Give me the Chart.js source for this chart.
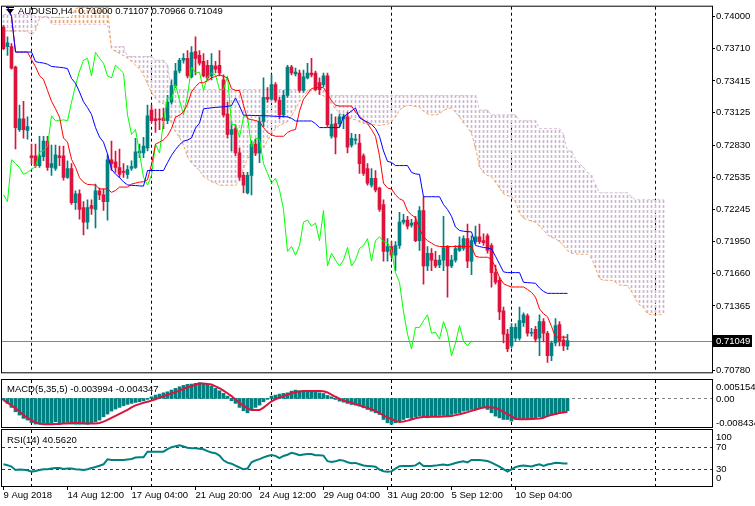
<!DOCTYPE html>
<html>
<head>
<meta charset="utf-8">
<script src="https://cdn.jsdelivr.net/npm/chart.js@4.4.1/dist/chart.umd.min.js"></script>
<style>
  body { margin: 0; background: #fff; width: 755px; height: 506px; overflow: hidden; position: relative; }
  canvas { position: absolute; left: 0; }
</style>
</head>
<body>
<canvas id="main" width="755" height="379" style="top:0"></canvas>
<canvas id="macd" width="755" height="49" style="top:379px"></canvas>
<canvas id="rsi" width="755" height="77" style="top:429px"></canvas>
<script>
// AUDUSD H4, 9 Aug - 11 Sep 2018, one entry per 4h bar
const opens = [
  0.73905, 0.73727, 0.73727, 0.73541, 0.72972, 0.73070, 0.72964, 0.72733, 0.72733, 0.72644,
  0.72724, 0.72866, 0.72626, 0.72617, 0.72733, 0.72733, 0.72537, 0.72617, 0.72306, 0.72386,
  0.72262, 0.72129, 0.72280, 0.72244, 0.72413, 0.72377, 0.72315, 0.72697, 0.72679, 0.72626,
  0.72591, 0.72564, 0.72617, 0.72626, 0.72759, 0.72759, 0.72804, 0.73150, 0.73070, 0.73070,
  0.73079, 0.73052, 0.73221, 0.73372, 0.73505, 0.73603, 0.73621, 0.73452, 0.73683, 0.73647,
  0.73594, 0.73558, 0.73461, 0.73550, 0.73558, 0.73425, 0.73114, 0.72928, 0.72981, 0.72759,
  0.72555, 0.72395, 0.72555, 0.72839, 0.72759, 0.73043, 0.73265, 0.73248, 0.73381, 0.73239,
  0.73106, 0.73283, 0.73541, 0.73478, 0.73487, 0.73328, 0.73443, 0.73487, 0.73487, 0.73399,
  0.73381, 0.73461, 0.72911, 0.73026, 0.73026, 0.73070, 0.73088, 0.72830, 0.72875, 0.72848,
  0.72733, 0.72617, 0.72466, 0.72528, 0.72440, 0.72289, 0.71862, 0.71907, 0.71827, 0.71916,
  0.72129, 0.72147, 0.72102, 0.72129, 0.71960, 0.72235, 0.71729, 0.71845, 0.71783, 0.71738,
  0.71783, 0.71907, 0.71729, 0.71783, 0.71871, 0.71889, 0.71978, 0.71774, 0.71951, 0.71995,
  0.71960, 0.72004, 0.71916, 0.71669, 0.71598, 0.71321, 0.71108, 0.71001, 0.71072, 0.71072,
  0.71214, 0.71276, 0.71117, 0.71152, 0.71072, 0.71223, 0.71117, 0.70912, 0.71028, 0.71196,
  0.71054, 0.71000
];
const highs = [
  0.73922, 0.73816, 0.73754, 0.73550, 0.73194, 0.73230, 0.73088, 0.72839, 0.72839, 0.72911,
  0.72911, 0.72911, 0.72830, 0.72830, 0.72821, 0.72821, 0.72688, 0.72662, 0.72413, 0.72422,
  0.72315, 0.72333, 0.72333, 0.72475, 0.72440, 0.72431, 0.72741, 0.72866, 0.72777, 0.72795,
  0.72662, 0.72644, 0.72688, 0.72893, 0.72839, 0.72902, 0.73194, 0.73194, 0.73159, 0.73159,
  0.73168, 0.73283, 0.73425, 0.73576, 0.73621, 0.73665, 0.73692, 0.73727, 0.73816, 0.73692,
  0.73665, 0.73603, 0.73665, 0.73594, 0.73692, 0.73470, 0.73221, 0.73043, 0.73017, 0.72804,
  0.72582, 0.72582, 0.72866, 0.72884, 0.73088, 0.73443, 0.73354, 0.73470, 0.73399, 0.73265,
  0.73328, 0.73558, 0.73558, 0.73532, 0.73514, 0.73514, 0.73576, 0.73621, 0.73505, 0.73443,
  0.73487, 0.73487, 0.73114, 0.73088, 0.73114, 0.73114, 0.73132, 0.72937, 0.72928, 0.72928,
  0.72750, 0.72662, 0.72617, 0.72599, 0.72448, 0.72333, 0.71978, 0.71951, 0.71951, 0.72218,
  0.72200, 0.72182, 0.72155, 0.72182, 0.72271, 0.72360, 0.71907, 0.71889, 0.71862, 0.71827,
  0.72182, 0.71916, 0.71827, 0.71916, 0.71995, 0.72004, 0.72111, 0.72004, 0.72093, 0.72111,
  0.72022, 0.72022, 0.71933, 0.71738, 0.71625, 0.71356, 0.71152, 0.71205, 0.71205, 0.71356,
  0.71303, 0.71294, 0.71161, 0.71179, 0.71285, 0.71250, 0.71134, 0.71045, 0.71250, 0.71223,
  0.71090, 0.71107
];
const lows = [
  0.73700, 0.73647, 0.73523, 0.72795, 0.72955, 0.72893, 0.72884, 0.72662, 0.72626, 0.72626,
  0.72688, 0.72599, 0.72555, 0.72599, 0.72644, 0.72511, 0.72528, 0.72289, 0.72244, 0.72155,
  0.72013, 0.72067, 0.72200, 0.72075, 0.72333, 0.72235, 0.72147, 0.72599, 0.72582, 0.72537,
  0.72537, 0.72528, 0.72599, 0.72617, 0.72715, 0.72715, 0.72777, 0.73034, 0.72946, 0.72972,
  0.72981, 0.73026, 0.73203, 0.73354, 0.73487, 0.73576, 0.73443, 0.73443, 0.73470, 0.73558,
  0.73452, 0.73425, 0.73425, 0.73487, 0.73461, 0.73088, 0.72893, 0.72777, 0.72733, 0.72511,
  0.72395, 0.72386, 0.72377, 0.72733, 0.72670, 0.72999, 0.73221, 0.73239, 0.73221, 0.73070,
  0.73088, 0.73265, 0.73470, 0.73461, 0.73310, 0.73310, 0.73434, 0.73452, 0.73328, 0.73292,
  0.73363, 0.72999, 0.72893, 0.72750, 0.72999, 0.72981, 0.72759, 0.72812, 0.72839, 0.72573,
  0.72555, 0.72466, 0.72448, 0.72404, 0.72226, 0.71774, 0.71774, 0.71800, 0.71687, 0.71889,
  0.72111, 0.72067, 0.72084, 0.71951, 0.71871, 0.71563, 0.71687, 0.71687, 0.71713, 0.71713,
  0.71687, 0.71445, 0.71713, 0.71765, 0.71862, 0.71871, 0.71713, 0.71651, 0.71933, 0.71933,
  0.71916, 0.71845, 0.71537, 0.71563, 0.71241, 0.71028, 0.70948, 0.70983, 0.71045, 0.71054,
  0.71179, 0.71090, 0.71090, 0.71037, 0.70912, 0.71037, 0.70850, 0.70868, 0.71001, 0.71001,
  0.70957, 0.70966
];
const closes = [
  0.73709, 0.73763, 0.73532, 0.72990, 0.73070, 0.72972, 0.72999, 0.72715, 0.72644, 0.72733,
  0.72866, 0.72626, 0.72662, 0.72741, 0.72715, 0.72537, 0.72617, 0.72306, 0.72386, 0.72244,
  0.72129, 0.72262, 0.72253, 0.72413, 0.72377, 0.72315, 0.72697, 0.72662, 0.72626, 0.72564,
  0.72582, 0.72608, 0.72635, 0.72768, 0.72777, 0.72821, 0.73097, 0.73052, 0.73052, 0.73061,
  0.73052, 0.73221, 0.73372, 0.73505, 0.73603, 0.73621, 0.73461, 0.73674, 0.73621, 0.73576,
  0.73461, 0.73443, 0.73558, 0.73523, 0.73487, 0.73106, 0.72928, 0.72972, 0.72759, 0.72537,
  0.72466, 0.72555, 0.72839, 0.72759, 0.73043, 0.73265, 0.73248, 0.73381, 0.73239, 0.73106,
  0.73283, 0.73541, 0.73487, 0.73496, 0.73328, 0.73452, 0.73487, 0.73470, 0.73336, 0.73336,
  0.73461, 0.73017, 0.73017, 0.72902, 0.73088, 0.73088, 0.72812, 0.72893, 0.72884, 0.72662,
  0.72573, 0.72484, 0.72528, 0.72422, 0.72244, 0.71862, 0.71907, 0.71827, 0.71916, 0.72129,
  0.72147, 0.72093, 0.72120, 0.71960, 0.72235, 0.71729, 0.71845, 0.71783, 0.71729, 0.71783,
  0.71898, 0.71729, 0.71783, 0.71889, 0.71916, 0.71978, 0.71774, 0.71960, 0.71995, 0.71951,
  0.71942, 0.71871, 0.71669, 0.71581, 0.71312, 0.71108, 0.70974, 0.71170, 0.71170, 0.71232,
  0.71285, 0.71117, 0.71125, 0.71063, 0.71223, 0.71117, 0.70912, 0.71028, 0.71187, 0.71045,
  0.71001, 0.71049
];

// Ichimoku lines
const tenkan = [
  0.74180, 0.74091, 0.74002, 0.73678, 0.73678, 0.73678, 0.73678, 0.73607, 0.73545, 0.73462,
  0.73428, 0.73329, 0.73230, 0.73161, 0.73085, 0.72895, 0.72857, 0.72701, 0.72629, 0.72533,
  0.72493, 0.72472, 0.72470, 0.72466, 0.72431, 0.72431, 0.72431, 0.72400, 0.72417, 0.72448,
  0.72448, 0.72448, 0.72475, 0.72484, 0.72493, 0.72497, 0.72515, 0.72653, 0.72839, 0.72857,
  0.72879, 0.72915, 0.72981, 0.73085, 0.73104, 0.73132, 0.73203, 0.73315, 0.73363, 0.73399,
  0.73399, 0.73416, 0.73443, 0.73456, 0.73471, 0.73456, 0.73443, 0.73345, 0.73328, 0.73328,
  0.73194, 0.73070, 0.73063, 0.73054, 0.73043, 0.72990, 0.72946, 0.72924, 0.72911, 0.72911,
  0.72911, 0.72946, 0.72964, 0.72972, 0.73141, 0.73248, 0.73296, 0.73345, 0.73354, 0.73354,
  0.73354, 0.73296, 0.73234, 0.73194, 0.73186, 0.73186, 0.73186, 0.73186, 0.73132, 0.73092,
  0.73061, 0.73026, 0.72972, 0.72910, 0.72733, 0.72484, 0.72440, 0.72431, 0.72377, 0.72342,
  0.72324, 0.72231, 0.72195, 0.72169, 0.72071, 0.71995, 0.71960, 0.71938, 0.71916, 0.71907,
  0.71907, 0.71907, 0.71907, 0.71907, 0.71907, 0.71907, 0.71907, 0.71907, 0.71818, 0.71809,
  0.71809, 0.71809, 0.71791, 0.71713, 0.71625, 0.71569, 0.71551, 0.71538, 0.71538, 0.71538,
  0.71538, 0.71516, 0.71489, 0.71445, 0.71338, 0.71294, 0.71267, 0.71179, 0.71081, 0.71081,
  0.71081, 0.71081
];
const kijun = [
  0.74180, 0.74091, 0.74002, 0.73678, 0.73678, 0.73678, 0.73678, 0.73678, 0.73590, 0.73583,
  0.73578, 0.73567, 0.73547, 0.73543, 0.73539, 0.73535, 0.73527, 0.73437, 0.73394, 0.73314,
  0.73225, 0.73172, 0.73110, 0.72990, 0.72904, 0.72857, 0.72750, 0.72610, 0.72566, 0.72535,
  0.72496, 0.72468, 0.72464, 0.72462, 0.72459, 0.72457, 0.72599, 0.72599, 0.72599, 0.72599,
  0.72599, 0.72670, 0.72737, 0.72790, 0.72834, 0.72866, 0.72877, 0.72895, 0.72986, 0.73030,
  0.73161, 0.73165, 0.73170, 0.73174, 0.73177, 0.73179, 0.73183, 0.73190, 0.73260, 0.73186,
  0.73103, 0.73102, 0.73101, 0.73100, 0.73099, 0.73098, 0.73097, 0.73095, 0.73093, 0.73091,
  0.73089, 0.73088, 0.73074, 0.73050, 0.73050, 0.73050, 0.73050, 0.73050, 0.73026, 0.72990,
  0.72990, 0.72990, 0.72990, 0.72990, 0.72990, 0.73088, 0.73114, 0.73141, 0.73168, 0.73079,
  0.73057, 0.73039, 0.73019, 0.72981, 0.72910, 0.72777, 0.72682, 0.72673, 0.72644, 0.72644,
  0.72644, 0.72644, 0.72582, 0.72568, 0.72564, 0.72360, 0.72360, 0.72360, 0.72360, 0.72360,
  0.72289, 0.72244, 0.72182, 0.72084, 0.72053, 0.72046, 0.72042, 0.72040, 0.71916, 0.71907,
  0.71898, 0.71893, 0.71885, 0.71818, 0.71747, 0.71676, 0.71669, 0.71669, 0.71669, 0.71669,
  0.71581, 0.71578, 0.71575, 0.71572, 0.71529, 0.71498, 0.71480, 0.71480, 0.71480, 0.71480,
  0.71480, 0.71480
];
// lagging span, starts at the first bar of the chart
const chikou = [
  0.72377, 0.72315, 0.72697, 0.72662, 0.72626, 0.72564, 0.72582, 0.72608, 0.72635, 0.72768,
  0.72777, 0.72821, 0.73097, 0.73052, 0.73052, 0.73061, 0.73052, 0.73221, 0.73372, 0.73505,
  0.73603, 0.73621, 0.73461, 0.73674, 0.73621, 0.73576, 0.73461, 0.73443, 0.73558, 0.73523,
  0.73487, 0.73106, 0.72928, 0.72972, 0.72759, 0.72537, 0.72466, 0.72555, 0.72839, 0.72759,
  0.73043, 0.73265, 0.73248, 0.73381, 0.73239, 0.73106, 0.73283, 0.73541, 0.73487, 0.73496,
  0.73328, 0.73452, 0.73487, 0.73470, 0.73336, 0.73336, 0.73461, 0.73017, 0.73017, 0.72902,
  0.73088, 0.73088, 0.72812, 0.72893, 0.72884, 0.72662, 0.72573, 0.72484, 0.72528, 0.72422,
  0.72244, 0.71862, 0.71907, 0.71827, 0.71916, 0.72129, 0.72147, 0.72093, 0.72120, 0.71960,
  0.72235, 0.71729, 0.71845, 0.71783, 0.71729, 0.71783, 0.71898, 0.71729, 0.71783, 0.71889,
  0.71916, 0.71978, 0.71774, 0.71960, 0.71995, 0.71951, 0.71942, 0.71871, 0.71669, 0.71581,
  0.71312, 0.71108, 0.70974, 0.71170, 0.71170, 0.71232, 0.71285, 0.71117, 0.71125, 0.71063,
  0.71223, 0.71117, 0.70912, 0.71028, 0.71187, 0.71045, 0.71001, 0.71049
];
// leading spans, run 24 bars past the last candle
const senkouA = [
  0.73869, 0.73869, 0.73869, 0.73869, 0.73869, 0.73869, 0.73869, 0.73834, 0.73878, 0.73985,
  0.73994, 0.73994, 0.73994, 0.73994, 0.73994, 0.73994, 0.73994, 0.73994, 0.74073, 0.74082,
  0.74082, 0.74082, 0.74082, 0.74082, 0.74082, 0.74082, 0.74082, 0.73709, 0.73683, 0.73665,
  0.73647, 0.73621, 0.73594, 0.73558, 0.73523, 0.73470, 0.73390, 0.73310, 0.73257, 0.73217,
  0.73208, 0.73168, 0.73026, 0.72955, 0.72901, 0.72830, 0.72724, 0.72670, 0.72635, 0.72599,
  0.72546, 0.72519, 0.72497, 0.72484, 0.72466, 0.72466, 0.72466, 0.72466, 0.72466, 0.72502,
  0.72617, 0.72706, 0.72748, 0.72748, 0.72764, 0.72804, 0.72875, 0.72928, 0.72981, 0.73012,
  0.73026, 0.73043, 0.73097, 0.73159, 0.73230, 0.73283, 0.73319, 0.73328, 0.73323, 0.73292,
  0.73281, 0.73239, 0.73208, 0.73159, 0.73123, 0.73097, 0.73083, 0.73070, 0.73061, 0.73043,
  0.73028, 0.73023, 0.73019, 0.73015, 0.73010, 0.73017, 0.73017, 0.73043, 0.73088, 0.73150,
  0.73177, 0.73194, 0.73190, 0.73181, 0.73177, 0.73141, 0.73114, 0.73106, 0.73106, 0.73114,
  0.73146, 0.73163, 0.73168, 0.73132, 0.73088, 0.73034, 0.72995, 0.72937, 0.72804, 0.72635,
  0.72582, 0.72555, 0.72542, 0.72493, 0.72440, 0.72386, 0.72369, 0.72360, 0.72315, 0.72209,
  0.72164, 0.72151, 0.72138, 0.72129, 0.72093, 0.72058, 0.72013, 0.71991, 0.71978, 0.71951,
  0.71916, 0.71871, 0.71845, 0.71840, 0.71836, 0.71836, 0.71836, 0.71800, 0.71713, 0.71614,
  0.71601, 0.71599, 0.71598, 0.71581, 0.71556, 0.71555, 0.71549, 0.71498, 0.71427, 0.71374,
  0.71352, 0.71294, 0.71285, 0.71285, 0.71285, 0.71285
];
const senkouB = [
  0.74020, 0.74020, 0.74020, 0.74020, 0.74020, 0.74020, 0.74020, 0.74020, 0.74002, 0.74002,
  0.74002, 0.74002, 0.73931, 0.73931, 0.73931, 0.73931, 0.73931, 0.73931, 0.73931, 0.73931,
  0.73931, 0.73931, 0.73931, 0.73931, 0.73931, 0.73931, 0.73931, 0.73727, 0.73727, 0.73727,
  0.73727, 0.73638, 0.73638, 0.73638, 0.73638, 0.73638, 0.73638, 0.73638, 0.73603, 0.73603,
  0.73603, 0.73558, 0.73336, 0.73336, 0.73336, 0.73336, 0.73336, 0.73336, 0.73336, 0.73336,
  0.73336, 0.73336, 0.73336, 0.73336, 0.73336, 0.73336, 0.73336, 0.73336, 0.73336, 0.73336,
  0.73336, 0.73336, 0.73336, 0.73336, 0.73336, 0.73336, 0.73336, 0.73336, 0.73336, 0.73336,
  0.73336, 0.73336, 0.73336, 0.73336, 0.73336, 0.73336, 0.73336, 0.73336, 0.73336, 0.73336,
  0.73336, 0.73281, 0.73281, 0.73281, 0.73281, 0.73281, 0.73281, 0.73281, 0.73281, 0.73281,
  0.73281, 0.73281, 0.73281, 0.73281, 0.73281, 0.73281, 0.73281, 0.73281, 0.73281, 0.73281,
  0.73281, 0.73281, 0.73281, 0.73281, 0.73281, 0.73281, 0.73281, 0.73281, 0.73281, 0.73281,
  0.73281, 0.73281, 0.73281, 0.73281, 0.73281, 0.73281, 0.73281, 0.73281, 0.73281, 0.73150,
  0.73150, 0.73150, 0.73106, 0.73106, 0.73106, 0.73106, 0.73106, 0.73106, 0.73106, 0.73052,
  0.73052, 0.73052, 0.73052, 0.73052, 0.72981, 0.72981, 0.72981, 0.72981, 0.72981, 0.72981,
  0.72928, 0.72777, 0.72777, 0.72706, 0.72662, 0.72626, 0.72582, 0.72555, 0.72475, 0.72395,
  0.72395, 0.72395, 0.72395, 0.72395, 0.72395, 0.72395, 0.72395, 0.72360, 0.72333, 0.72333,
  0.72333, 0.72333, 0.72333, 0.72333, 0.72333, 0.72333
];

// MACD(5,35,5): main line drawn as histogram, signal as line
const macdMain = [
  -0.00052, -0.00160, -0.00291, -0.00435, -0.00543, -0.00651, -0.00706, -0.00795, -0.00837, -0.00843,
  -0.00814, -0.00843, -0.00814, -0.00762, -0.00795, -0.00814, -0.00782, -0.00837, -0.00843, -0.00843,
  -0.00837, -0.00843, -0.00814, -0.00762, -0.00706, -0.00598, -0.00510, -0.00412, -0.00347, -0.00291,
  -0.00239, -0.00193, -0.00160, -0.00128, -0.00108, -0.00075, -0.00029, 0.00056, 0.00111, 0.00144,
  0.00186, 0.00219, 0.00275, 0.00330, 0.00383, 0.00428, 0.00461, 0.00471, 0.00494, 0.005154,
  0.00494, 0.00461, 0.00405, 0.00330, 0.00252, 0.00167, 0.00078, -0.00075, -0.00160, -0.00291,
  -0.00402, -0.00468, -0.00379, -0.00291, -0.00216, -0.00108, -0.00029, 0.00078, 0.00111, 0.00144,
  0.00167, 0.00185, 0.00240, 0.00272, 0.00250, 0.00261, 0.00240, 0.00240, 0.00207, 0.00185,
  0.00163, 0.00098, 0.00054, -0.00033, -0.00087, -0.00120, -0.00163, -0.00196, -0.00218, -0.00250,
  -0.00305, -0.00359, -0.00414, -0.00468, -0.00523, -0.00686, -0.00795, -0.00843, -0.00795, -0.00741,
  -0.00686, -0.00632, -0.00653, -0.00599, -0.00577, -0.00610, -0.00632, -0.00599, -0.00577, -0.00555,
  -0.00555, -0.00577, -0.00523, -0.00490, -0.00468, -0.00414, -0.00392, -0.00359, -0.00359, -0.00327,
  -0.00305, -0.00359, -0.00468, -0.00577, -0.00632, -0.00686, -0.00686, -0.00741, -0.00686, -0.00664,
  -0.00686, -0.00664, -0.00686, -0.00632, -0.00599, -0.00610, -0.00577, -0.00545, -0.00512, -0.00479,
  -0.00446, -0.003994
];
const macdSignal = [
  -0.00052, -0.00141, -0.00226, -0.00324, -0.00428, -0.00543, -0.00631, -0.00716, -0.00782, -0.00821,
  -0.00843, -0.00843, -0.00843, -0.00837, -0.00831, -0.00821, -0.00814, -0.00804, -0.00798, -0.00801,
  -0.00811, -0.00814, -0.00814, -0.00814, -0.00798, -0.00755, -0.00697, -0.00631, -0.00566, -0.00500,
  -0.00435, -0.00370, -0.00288, -0.00226, -0.00183, -0.00141, -0.00105, -0.00069, -0.00026, 0.00026,
  0.00078, 0.00121, 0.00167, 0.00209, 0.00258, 0.00317, 0.00366, 0.00405, 0.00448, 0.00487,
  0.00487, 0.00477, 0.00455, 0.00396, 0.00334, 0.00258, 0.00170, 0.00078, -0.00036, -0.00144,
  -0.00232, -0.00324, -0.00379, -0.00379, -0.00379, -0.00298, -0.00199, -0.00092, -0.00026, 0.00026,
  0.00078, 0.00128, 0.00177, 0.00209, 0.00226, 0.00242, 0.00242, 0.00242, 0.00242, 0.00242,
  0.00235, 0.00196, 0.00128, 0.00056, -0.00003, -0.00069, -0.00105, -0.00141, -0.00183, -0.00222,
  -0.00265, -0.00307, -0.00353, -0.00405, -0.00477, -0.00553, -0.00618, -0.00677, -0.00732, -0.00768,
  -0.00749, -0.00723, -0.00687, -0.00647, -0.00625, -0.00608, -0.00598, -0.00598, -0.00598, -0.00598,
  -0.00592, -0.00582, -0.00576, -0.00543, -0.00517, -0.00484, -0.00445, -0.00405, -0.00366, -0.00330,
  -0.00294, -0.00281, -0.00294, -0.00304, -0.00363, -0.00435, -0.00510, -0.00582, -0.00661, -0.00677,
  -0.00680, -0.00677, -0.00670, -0.00661, -0.00657, -0.00631, -0.00576, -0.00536, -0.00504, -0.00477,
  -0.00455, -0.004347
];
const macdLevels = [0.005154, 0, -0.008434];
const macdLevelText = ['0.005154', '0.00', '-0.008434'];

// RSI(14)
const rsiValues = [
  39.1, 37.5, 34.9, 28.7, 29.8, 29.3, 28.2, 25.8, 26.9, 28.7,
  30.0, 30.0, 31.6, 32.4, 32.5, 30.5, 31.5, 31.5, 30.2, 29.5,
  28.7, 30.2, 32.4, 34.2, 36.4, 39.1, 48.2, 46.9, 46.9, 46.9,
  46.9, 47.8, 48.7, 51.3, 51.8, 51.8, 62.0, 62.0, 62.0, 62.0,
  62.0, 66.5, 70.2, 71.8, 73.8, 71.5, 69.1, 68.2, 68.2, 67.5,
  66.4, 63.1, 60.5, 59.3, 54.9, 46.4, 42.2, 40.2, 36.7, 33.3,
  30.0, 31.3, 42.7, 46.2, 48.4, 51.8, 54.2, 56.0, 54.5, 50.2,
  54.2, 56.5, 60.0, 58.2, 55.6, 56.9, 58.0, 57.8, 55.5, 55.5,
  54.9, 44.7, 43.3, 44.5, 46.9, 45.8, 42.9, 40.9, 41.6, 39.3,
  36.9, 36.2, 35.5, 34.7, 29.5, 26.5, 25.6, 26.2, 31.3, 35.6,
  36.0, 36.0, 36.0, 37.1, 42.0, 36.0, 36.0, 36.0, 36.7, 37.8,
  38.7, 37.3, 39.1, 41.5, 43.3, 44.7, 42.5, 46.9, 46.9, 46.9,
  46.0, 45.1, 42.2, 38.7, 34.7, 30.2, 25.8, 30.0, 34.0, 36.0,
  36.7, 36.0, 35.1, 37.3, 39.1, 36.0, 38.7, 40.2, 42.0, 41.3,
  40.7, 40.562
];
const rsiLevels = [100, 70, 30, 0];
const rsiBands = [70, 30];

const priceTicks = [0.74000, 0.73710, 0.73415, 0.73125, 0.72830, 0.72535, 0.72245,
                    0.71950, 0.71660, 0.71365, 0.70780];
const timeLabels = ['9 Aug 2018', '14 Aug 12:00', '17 Aug 04:00', '21 Aug 20:00', '24 Aug 12:00',
                    '29 Aug 04:00', '31 Aug 20:00', '5 Sep 12:00', '10 Sep 04:00'];
const LABEL_STEP = 16;                       // bars between time labels
const weekStarts = [7, 37, 67, 97, 127, 163]; // dashed separators

const BULL = '#008080', BEAR = '#dc143c';
const FONT = '"Liberation Sans", Arial, sans-serif';
const X_MIN = -0.375, X_MAX = X_MIN + 177.5;  // 4px per bar over 710px
const AXIS_W = 43;

const last = closes.length - 1;

// shared pieces
function xAxis() {
  return { type: 'linear', min: X_MIN, max: X_MAX, offset: false, display: false };
}
function sideAxis(min, max) {
  return {
    position: 'right', min: min, max: max,
    afterFit: s => { s.width = AXIS_W; },
    ticks: { display: false }, grid: { display: false }, border: { display: false }
  };
}
const paneFrame = {
  id: 'paneFrame',
  beforeDatasetsDraw(chart) {
    const { ctx, chartArea: a, scales: { x } } = chart;
    ctx.save();
    ctx.strokeStyle = '#000';
    ctx.lineWidth = 1;
    ctx.setLineDash([3, 3]);
    weekStarts.forEach(i => {
      const px = Math.floor(x.getPixelForValue(i)) + 0.5;
      ctx.beginPath();
      ctx.moveTo(px, a.top);
      ctx.lineTo(px, a.bottom);
      ctx.stroke();
    });
    ctx.restore();
  },
  afterDraw(chart) {
    const { ctx, chartArea: a } = chart;
    ctx.save();
    ctx.strokeStyle = '#000';
    ctx.lineWidth = 1;
    ctx.strokeRect(a.left - 0.5, a.top - 0.5, a.right - a.left + 1, a.bottom - a.top + 1);
    ctx.restore();
  }
};
function caption(text, x, y, withArrow) {
  return {
    id: 'caption',
    afterDraw(chart) {
      const ctx = chart.ctx;
      ctx.save();
      if (withArrow) {
        ctx.fillStyle = '#000';
        ctx.fillRect(6, 7, 8, 1);
        ctx.beginPath();
        ctx.moveTo(6, 9); ctx.lineTo(14, 9); ctx.lineTo(10, 14); ctx.closePath();
        ctx.fill();
      }
      ctx.font = '9.5px ' + FONT;
      ctx.fillStyle = '#000';
      ctx.textBaseline = 'middle';
      ctx.fillText(text, x, y);
      ctx.restore();
    }
  };
}
function levelLines(values, color) {
  return {
    id: 'levels',
    beforeDatasetsDraw(chart) {
      const { ctx, chartArea: a, scales: { y } } = chart;
      ctx.save();
      ctx.strokeStyle = color;
      ctx.setLineDash([3, 3]);
      values.forEach(v => {
        const py = Math.round(y.getPixelForValue(v)) + 0.5;
        ctx.beginPath(); ctx.moveTo(a.left, py); ctx.lineTo(a.right, py); ctx.stroke();
      });
      ctx.restore();
    }
  };
}
function sideLabels(values, texts, nudge) {
  return {
    id: 'sideLabels',
    afterDraw(chart) {
      const { ctx, chartArea: a, scales: { y } } = chart;
      ctx.save();
      ctx.font = '9.5px ' + FONT;
      ctx.fillStyle = '#000';
      ctx.textBaseline = 'middle';
      values.forEach((v, k) => ctx.fillText(texts[k], a.right + 4, y.getPixelForValue(v) + nudge[k]));
      ctx.restore();
    }
  };
}

// ---------- main price pane ----------
const mainCtx = document.getElementById('main').getContext('2d');
function hatch(color) {
  const c = document.createElement('canvas');
  c.width = 1; c.height = 5;
  const g = c.getContext('2d');
  g.fillStyle = color;
  g.fillRect(0, 0, 1, 3);
  return mainCtx.createPattern(c, 'repeat');
}
const kumoUp = [], kumoDown = [];
senkouA.forEach((a, i) => {
  const b = senkouB[i];
  (a > b ? kumoUp : kumoDown).push({ x: i, y: [Math.min(a, b), Math.max(a, b)] });
});
const pts = arr => arr.map((v, i) => ({ x: i, y: v }));
const candleColors = opens.map((o, i) => closes[i] >= o ? BULL : BEAR);

const lastPrice = {
  id: 'lastPrice',
  beforeDatasetsDraw(chart) {
    const { ctx, chartArea: a, scales: { y } } = chart;
    const py = Math.round(y.getPixelForValue(closes[last])) + 0.5;
    ctx.save();
    ctx.strokeStyle = '#778899';
    ctx.beginPath(); ctx.moveTo(a.left, py); ctx.lineTo(a.right, py); ctx.stroke();
    ctx.restore();
  },
  afterDraw(chart) {
    const { ctx, chartArea: a, scales: { y } } = chart;
    const py = Math.round(y.getPixelForValue(closes[last]));
    ctx.save();
    ctx.fillStyle = '#000';
    ctx.fillRect(a.right + 1, py - 6, 39, 12);
    ctx.fillStyle = '#fff';
    ctx.font = '9.5px ' + FONT;
    ctx.textBaseline = 'middle';
    ctx.fillText(closes[last].toFixed(5), a.right + 4, py + 0.5);
    ctx.restore();
  }
};

new Chart(mainCtx, {
  type: 'bar',
  data: {
    datasets: [
      { label: 'kumo down', data: kumoDown, backgroundColor: hatch('#cdb5cd'), barThickness: 1, grouped: false, order: 10 },
      { label: 'kumo up', data: kumoUp, backgroundColor: hatch('#f4a460'), barThickness: 1, grouped: false, order: 10 },
      { type: 'line', label: 'Senkou A', data: pts(senkouA), borderColor: '#f4a460', borderWidth: 1, borderDash: [3, 2], pointRadius: 0, order: 9 },
      { type: 'line', label: 'Senkou B', data: pts(senkouB), borderColor: '#d8bfd8', borderWidth: 1, borderDash: [3, 2], pointRadius: 0, order: 9 },
      { label: 'wick', data: lows.map((l, i) => ({ x: i, y: [l, highs[i]] })), backgroundColor: candleColors, barThickness: 1, grouped: false, order: 8 },
      { label: 'body', data: opens.map((o, i) => ({ x: i, y: [o, closes[i]] })), backgroundColor: candleColors, barThickness: 3, minBarLength: 1, grouped: false, order: 7 },
      { type: 'line', label: 'Chikou', data: pts(chikou), borderColor: '#00ff00', borderWidth: 1, pointRadius: 0, order: 3 },
      { type: 'line', label: 'Tenkan', data: pts(tenkan), borderColor: '#ff0000', borderWidth: 1, pointRadius: 0, order: 2 },
      { type: 'line', label: 'Kijun', data: pts(kijun), borderColor: '#0000ff', borderWidth: 1, pointRadius: 0, order: 1 }
    ]
  },
  options: {
    responsive: false, animation: false, events: [],
    layout: { padding: { left: 2, top: 2, bottom: 2, right: 0 } },
    plugins: { legend: { display: false }, tooltip: { enabled: false } },
    scales: {
      x: xAxis(),
      y: {
        position: 'right', min: 0.70761, max: 0.74091,
        afterFit: s => { s.width = AXIS_W; },
        afterBuildTicks: s => { s.ticks = priceTicks.map(v => ({ value: v })); },
        grid: { drawOnChartArea: false, tickLength: 3, color: '#000' },
        border: { display: false },
        ticks: { padding: 1, color: '#000', autoSkip: false, font: { family: FONT, size: 9.5 },
                 callback: v => v.toFixed(5) }
      }
    }
  },
  plugins: [paneFrame, lastPrice,
            caption('AUDUSD,H4  ' + [opens[last], highs[last], lows[last], closes[last]].map(v => v.toFixed(5)).join(' '), 18, 11, true)]
});

// ---------- MACD pane ----------
new Chart(document.getElementById('macd'), {
  type: 'bar',
  data: {
    datasets: [
      { type: 'line', data: pts(macdSignal), borderColor: BEAR, borderWidth: 2, pointRadius: 0, order: 1 },
      { data: pts(macdMain), backgroundColor: BULL, barThickness: 3, order: 2 }
    ]
  },
  options: {
    responsive: false, animation: false, events: [],
    layout: { padding: { left: 2, top: 1, bottom: 1, right: 0 } },
    plugins: { legend: { display: false }, tooltip: { enabled: false } },
    scales: { x: xAxis(), y: sideAxis(-0.009316, 0.006036) }
  },
  plugins: [paneFrame, levelLines([0], '#808080'),
            sideLabels(macdLevels, macdLevelText, [4.3, 0.6, -1.3]),
            caption('MACD(5,35,5) ' + macdMain[last].toFixed(6) + ' ' + macdSignal[last].toFixed(6), 7, 10, false)]
});

// ---------- RSI pane ----------
new Chart(document.getElementById('rsi'), {
  type: 'line',
  data: {
    datasets: [
      { data: pts(rsiValues), borderColor: BULL, borderWidth: 2, pointRadius: 0 }
    ]
  },
  options: {
    responsive: false, animation: false, events: [],
    layout: { padding: { left: 2, top: 1, bottom: 0, right: 0 } },
    plugins: { legend: { display: false }, tooltip: { enabled: false } },
    scales: {
      x: {
        type: 'linear', min: X_MIN, max: X_MAX, offset: false, position: 'bottom',
        afterBuildTicks: s => { s.ticks = timeLabels.map((t, k) => ({ value: k * LABEL_STEP })); },
        afterFit: s => { s.height = 20; },
        grid: { drawOnChartArea: false, tickLength: 4, color: '#000' },
        border: { display: false },
        ticks: { align: 'start', padding: 0, autoSkip: false, maxRotation: 0, color: '#000',
                 font: { family: FONT, size: 9.5 }, callback: (v, k) => timeLabels[k] }
      },
      y: sideAxis(-0.36, 101.45)
    }
  },
  plugins: [paneFrame, levelLines(rsiBands, '#006400'),
            sideLabels(rsiLevels, rsiLevels.map(String), [7, 0, 0, -7]),
            caption('RSI(14) ' + rsiValues[last].toFixed(4), 7, 11, false)]
});
</script>
</body>
</html>
